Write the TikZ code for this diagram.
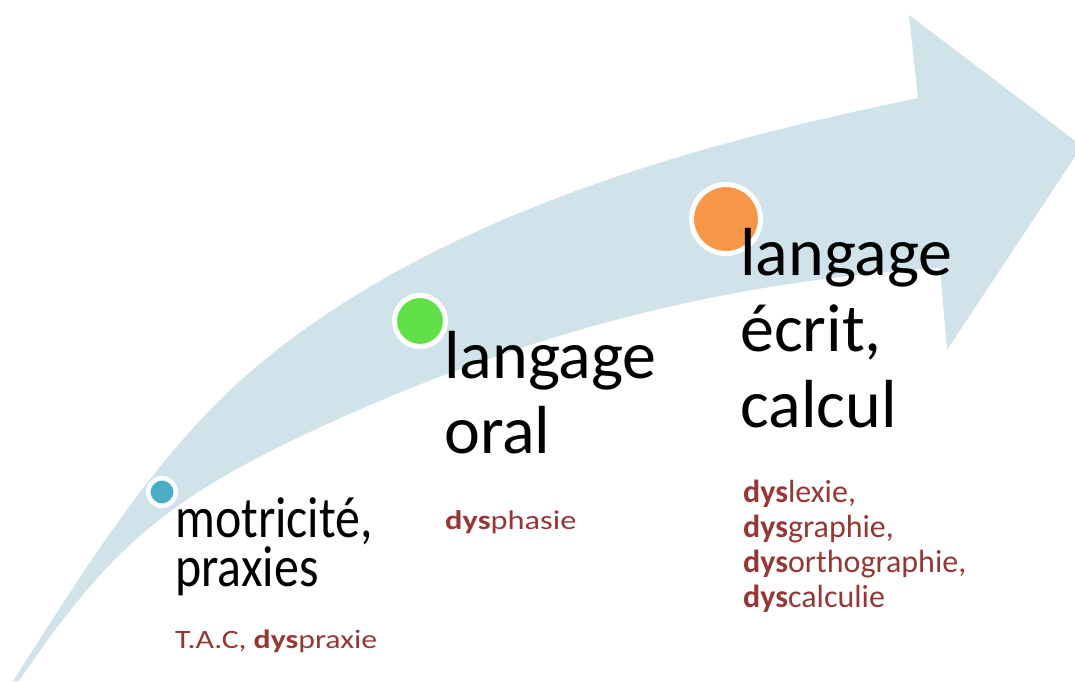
\documentclass[tikz,border=0pt]{standalone}
\usepackage{fontspec}
\setmainfont{Carlito}
\newfontfamily\narrowfont[FakeStretch=0.86]{Carlito}
\newfontfamily\widefont[FakeStretch=1.2]{Carlito}
\usepackage{tikz}
\usetikzlibrary{positioning}
\definecolor{band}{HTML}{D0E3EA}
\definecolor{dysred}{HTML}{953735}
\definecolor{dotteal}{HTML}{4BACC6}
\definecolor{dotgreen}{HTML}{5FE046}
\definecolor{dotorange}{HTML}{F79646}
\newcommand{\dys}{\textbf{dys}}

\begin{document}
\begin{tikzpicture}[x=1pt,y=-1pt,
      dot node/.style={circle,draw=white,line width=5pt,inner sep=0pt},
      main text/.style={anchor=base west,inner sep=0pt,align=left},
      dys text/.style={main text,text=dysred}]
      \useasboundingbox (0,0) rectangle (1075,681);

      \fill[band] (13,681) .. controls (87,566) and (161,443) .. (268,357)
        .. controls (457,205) and (721,139) .. (918,98)
        -- (909,15) -- (1082,146) -- (947,350) -- (940,268)
        .. controls (728,281) and (524,332) .. (312,431)
        .. controls (167,499) and (109,548) .. (19,681) -- cycle;

      \node[dot node,fill=dotteal,line width=4.5pt,minimum size=27.5pt] (m) at (162,492) {};
      \node[dot node,fill=dotgreen,minimum size=51pt] (o) at (420,321) {};
      \node[dot node,fill=dotorange,minimum size=69pt] (e) at (726,219) {};

      \node[main text,font=\narrowfont\fontsize{58}{45}\selectfont] (mt) at (175,586) {motricité,\\praxies};
      \node[dys text,font=\widefont\fontsize{26.5}{31}\selectfont] (md) at (175,648) {T.A.C, \dys praxie};

      \node[main text,font=\fontsize{68}{75}\selectfont] (ot) at (444,453) {langage\\oral};
      \node[dys text,font=\widefont\fontsize{27}{31}\selectfont] (od) at (445,529) {\dys phasie};

      \node[main text,font=\fontsize{68}{76}\selectfont] (et) at (740,427) {langage\\écrit,\\calcul};
      \node[dys text,font=\fontsize{32}{34.7}\selectfont] (ed) at (743,607) {\dys lexie,\\\dys graphie,\\\dys orthographie,\\\dys calculie};
    \end{tikzpicture}
\end{document}
